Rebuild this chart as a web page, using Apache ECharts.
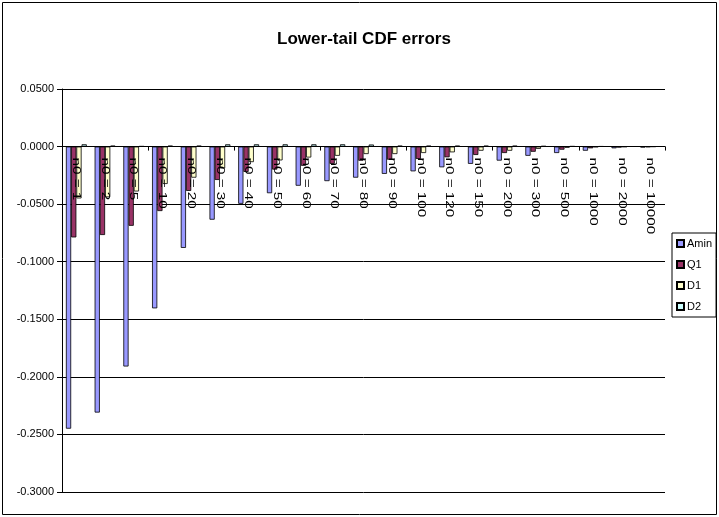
<!DOCTYPE html>
<html>
<head>
<meta charset="utf-8">
<script src="https://cdn.jsdelivr.net/npm/echarts@6/dist/echarts.min.js"></script>
<style>
  html, body { margin: 0; padding: 0; background: #fff; }
  #chart { width: 719px; height: 517px; }
</style>
</head>
<body>
<div id="chart"></div>
<script>
// Sample sizes along the category axis
const categories = ['n0 = 1', 'n0 = 2', 'n0 = 5', 'n0 = 10', 'n0 = 20', 'n0 = 30', 'n0 = 40',
  'n0 = 50', 'n0 = 60', 'n0 = 70', 'n0 = 80', 'n0 = 90', 'n0 = 100', 'n0 = 120', 'n0 = 150',
  'n0 = 200', 'n0 = 300', 'n0 = 500', 'n0 = 1000', 'n0 = 2000', 'n0 = 10000'];

// Lower-tail CDF error for each estimator
const amin = [-0.245, -0.231, -0.191, -0.1405, -0.088, -0.0635, -0.0497, -0.0405, -0.034, -0.030,
  -0.027, -0.0237, -0.0215, -0.018, -0.015, -0.0122, -0.008, -0.0056, -0.0036, -0.0015, -0.0008];
const q1 = [-0.0789, -0.0768, -0.0688, -0.056, -0.0385, -0.029, -0.022, -0.020, -0.0167, -0.015,
  -0.0123, -0.0114, -0.0108, -0.0093, -0.0073, -0.0056, -0.0045, -0.0027, -0.0015, -0.0008, -0.0004];
const d1 = [-0.045, -0.044, -0.039, -0.0325, -0.027, -0.019, -0.0135, -0.012, -0.0095, -0.008,
  -0.0065, -0.0065, -0.0056, -0.005, -0.0036, -0.0036, -0.002, -0.001, -0.0005, -0.0003, -0.0001];
const d2 = [0.002, 0.0008, 0.0003, 0.0008, 0.0008, 0.002, 0.002, 0.002, 0.002, 0.002,
  0.0018, 0.0008, 0.0008, 0.0008, 0.0008, 0.0008, 0.0005, 0.0003, 0.0002, 0.0001, 0.0001];

// Value axis ticks
const yMin = -0.3;
const yMax = 0.05;
const yStep = 0.05;

const seriesNames = ['Amin', 'Q1', 'D1', 'D2'];
const seriesColors = ['#9999FF', '#993366', '#FFFFCC', '#CCFFFF'];
const seriesValues = [amin, q1, d1, d2];

const FONT = '"Liberation Sans", Arial, sans-serif';

// Plot rectangle
const GRID = { left: 62, right: 54, top: 89, bottom: 25 };
const plotH = 517 - GRID.top - GRID.bottom;
// Shift the category axis up so it runs along the zero line
const zeroOffset = -plotH * (0 - yMin) / (yMax - yMin);

const chart = echarts.init(document.getElementById('chart'), null, { renderer: 'canvas' });

const barSeries = seriesNames.map((name, i) => ({
  name: name,
  type: 'bar',
  data: seriesValues[i],
  barGap: '0%',
  barCategoryGap: '27.3%',
  itemStyle: { color: seriesColors[i], borderColor: '#000', borderWidth: 0.8 }
}));

// Category names written downward from the zero line, stretched along the text
const labelSeries = {
  name: 'categoryLabels',
  type: 'custom',
  silent: true,
  z: 10,
  data: categories.map(c => [c, 0]),
  renderItem: (params, api) => {
    const p = api.coord([api.value(0), 0]);
    return {
      type: 'text',
      x: p[0] - 0.5,
      y: p[1] + 11,
      rotation: -Math.PI / 2,
      scaleX: 1.45,
      style: {
        text: categories[params.dataIndex],
        font: '10.5px ' + FONT,
        fill: '#000',
        align: 'left',
        verticalAlign: 'middle'
      }
    };
  }
};

chart.setOption({
  animation: false,
  backgroundColor: '#ffffff',
  textStyle: { fontFamily: FONT, color: '#000' },
  title: {
    text: 'Lower-tail CDF errors',
    left: 359,
    textAlign: 'center',
    top: 26,
    textStyle: { fontFamily: FONT, fontSize: 17, fontWeight: 'bold', color: '#000' }
  },
  graphic: [{
    type: 'rect',
    shape: { x: 2.5, y: 2.5, width: 714, height: 512 },
    style: { fill: 'none', stroke: '#000', lineWidth: 1 },
    silent: true
  }],
  legend: {
    orient: 'vertical',
    left: 672,
    top: 233,
    padding: [5, 4, 5, 4],
    itemGap: 10,
    itemWidth: 7,
    itemHeight: 7,
    icon: 'rect',
    borderColor: '#000',
    borderWidth: 1,
    textStyle: { fontFamily: FONT, fontSize: 11, color: '#000', padding: [0, 0, 0, -2] },
    data: seriesNames
  },
  grid: Object.assign({ containLabel: false, outerBoundsMode: 'none' }, GRID),
  xAxis: {
    type: 'category',
    data: categories,
    z: 10,
    offset: zeroOffset,
    axisLine: { onZero: false, lineStyle: { color: '#000', width: 1 } },
    axisTick: { show: true, alignWithLabel: false, length: 4, lineStyle: { color: '#000' } },
    axisLabel: { show: false },
    splitLine: { show: false }
  },
  yAxis: {
    type: 'value',
    min: yMin,
    max: yMax,
    interval: yStep,
    axisLine: { show: true, lineStyle: { color: '#000', width: 1 } },
    axisTick: { show: true, length: 5, lineStyle: { color: '#000' } },
    axisLabel: {
      margin: 8,
      fontFamily: FONT,
      fontSize: 11,
      color: '#000',
      formatter: v => (Math.abs(v) < 1e-9 ? 0 : v).toFixed(4)
    },
    splitLine: { show: true, lineStyle: { color: '#000', width: 1 } }
  },
  series: barSeries.concat([labelSeries])
});
</script>
</body>
</html>
